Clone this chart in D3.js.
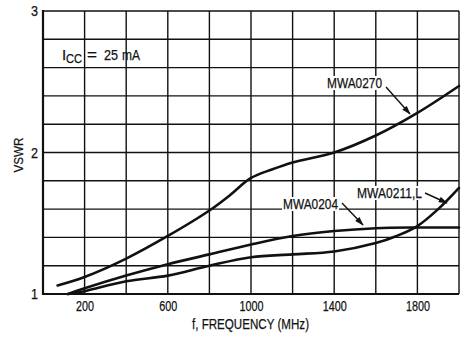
<!DOCTYPE html>
<html><head><meta charset="utf-8">
<script src="https://cdn.jsdelivr.net/npm/d3@7"></script>
<style>
html,body{margin:0;padding:0;background:#fff;}
svg text{font-family:"Liberation Sans",Arial,sans-serif;fill:#111;stroke:#111;stroke-width:0.25px;}
</style></head>
<body><svg id="c" width="461" height="337"></svg>
<script>
const xTickLabels = [200, 600, 1000, 1400, 1800];
const yTickLabels = [1, 2, 3];
const xGrid = d3.range(0, 2001, 200);
const yGrid = d3.range(1, 3.001, 0.2);

const f0270 = [70, 200, 400, 600, 800, 900, 1000, 1100, 1200, 1400, 1600, 1800, 2000];
const v0270 = [1.06, 1.12, 1.25, 1.41, 1.59, 1.70, 1.82, 1.88, 1.93, 2.0, 2.12, 2.28, 2.47];
const f0204 = [120, 200, 400, 600, 800, 1000, 1200, 1400, 1600, 1800, 2000];
const v0204 = [1.0, 1.04, 1.13, 1.21, 1.28, 1.35, 1.41, 1.445, 1.465, 1.47, 1.47];
const f0211 = [120, 200, 400, 600, 800, 1000, 1200, 1400, 1600, 1700, 1800, 1900, 2000];
const v0211 = [1.0, 1.02, 1.09, 1.13, 1.2, 1.26, 1.28, 1.3, 1.36, 1.41, 1.48, 1.6, 1.75];

const seriesNames = ["MWA0270", "MWA0204", "MWA0211,L"];

const svg = d3.select("#c");
const L = 43, R = 459, T = 11, B = 294;
const x = d3.scaleLinear().domain([0, 2000]).range([L, R]);
const y = d3.scaleLinear().domain([1, 3]).range([B, T]);

// grid
const g = svg.append("g");
g.selectAll("line.v").data(xGrid).enter().append("line")
  .attr("x1", d => x(d)).attr("x2", d => x(d)).attr("y1", T).attr("y2", B)
  .attr("stroke", "#111").attr("stroke-width", 1.4);
g.selectAll("line.h").data(yGrid).enter().append("line")
  .attr("y1", d => y(d)).attr("y2", d => y(d)).attr("x1", L).attr("x2", R)
  .attr("stroke", "#111").attr("stroke-width", 1.4);
svg.append("line").attr("x1", L).attr("x2", L).attr("y1", T - 1).attr("y2", B + 1)
  .attr("stroke", "#111").attr("stroke-width", 2.2);
svg.append("line").attr("x1", L).attr("x2", R).attr("y1", B).attr("y2", B)
  .attr("stroke", "#111").attr("stroke-width", 2.2);

// axis tick labels (condensed look via textLength)
const xAxis = d3.axisBottom(x).tickValues(xTickLabels).tickSize(0).tickPadding(7).tickFormat(d3.format("d"));
const xa = svg.append("g").attr("transform", `translate(0,${B})`).call(xAxis);
xa.select(".domain").remove();
xa.selectAll("text").attr("font-size", 14).attr("fill", "#111")
  .attr("textLength", d => String(d).length * 6)
  .attr("lengthAdjust", "spacingAndGlyphs")
  .style("font-family", '"Liberation Sans",Arial,sans-serif');

const yAxis = d3.axisLeft(y).tickValues(yTickLabels).tickSize(0).tickPadding(5).tickFormat(d3.format("d"));
const ya = svg.append("g").attr("transform", `translate(${L},0)`).call(yAxis);
ya.select(".domain").remove();
ya.selectAll("text").attr("font-size", 15).attr("fill", "#111")
  .attr("textLength", 7).attr("lengthAdjust", "spacingAndGlyphs")
  .style("font-family", '"Liberation Sans",Arial,sans-serif');

// axis titles
svg.append("text").attr("x", 192).attr("y", 329)
  .attr("font-size", 15).attr("textLength", 117).attr("lengthAdjust", "spacingAndGlyphs")
  .text("f, FREQUENCY (MHz)");
svg.append("text").attr("transform", "translate(23,155) rotate(-90)").attr("text-anchor", "middle")
  .attr("font-size", 13).attr("textLength", 35).attr("lengthAdjust", "spacingAndGlyphs").text("VSWR");

// Icc label
svg.append("text").attr("x", 62).attr("y", 60).attr("font-size", 15).text("I");
svg.append("text").attr("x", 66).attr("y", 63).attr("font-size", 12)
  .attr("textLength", 16).attr("lengthAdjust", "spacingAndGlyphs").text("CC");
svg.append("text").attr("x", 87).attr("y", 60).attr("font-size", 15)
  .attr("textLength", 10).attr("lengthAdjust", "spacingAndGlyphs").text("=");
svg.append("text").attr("x", 104).attr("y", 60).attr("font-size", 15)
  .attr("textLength", 14).attr("lengthAdjust", "spacingAndGlyphs").text("25");
svg.append("text").attr("x", 122).attr("y", 60).attr("font-size", 15)
  .attr("textLength", 18).attr("lengthAdjust", "spacingAndGlyphs").text("mA");

// curves
const line = d3.line().x(d => x(d[0])).y(d => y(d[1])).curve(d3.curveCatmullRom.alpha(0.5));
const data = [d3.zip(f0270, v0270), d3.zip(f0204, v0204), d3.zip(f0211, v0211)];
svg.append("g").selectAll("path").data(data).enter().append("path")
  .attr("d", line).attr("fill", "none").attr("stroke", "#111").attr("stroke-width", 2.6)
  .attr("stroke-linecap", "round");

// labels with arrows
svg.append("defs").append("marker").attr("id", "ah").attr("viewBox", "0 0 12 8")
  .attr("refX", 11).attr("refY", 4).attr("markerWidth", 10).attr("markerHeight", 6)
  .attr("orient", "auto").attr("markerUnits", "userSpaceOnUse")
  .append("path").attr("d", "M0,0 L12,4 L0,8 Z").attr("fill", "#111");

const labelPos = [[327, 88], [283, 209], [357, 198]];
const labelW = [55, 55, 65];
const arrows = [[[386, 87], [410, 114]], [[342, 203], [363, 225]], [[425, 193], [447, 203]]];
seriesNames.forEach((n, i) => {
  svg.append("rect").attr("x", labelPos[i][0] - 1).attr("y", labelPos[i][1] - 12)
    .attr("width", labelW[i] + 2).attr("height", 14).attr("fill", "#fff");
  svg.append("text").attr("x", labelPos[i][0]).attr("y", labelPos[i][1]).attr("font-size", 14.5)
    .attr("textLength", labelW[i]).attr("lengthAdjust", "spacingAndGlyphs").text(n);
  svg.append("line").attr("x1", arrows[i][0][0]).attr("y1", arrows[i][0][1])
    .attr("x2", arrows[i][1][0]).attr("y2", arrows[i][1][1])
    .attr("stroke", "#111").attr("stroke-width", 1.4).attr("marker-end", "url(#ah)");
});
</script></body></html>
